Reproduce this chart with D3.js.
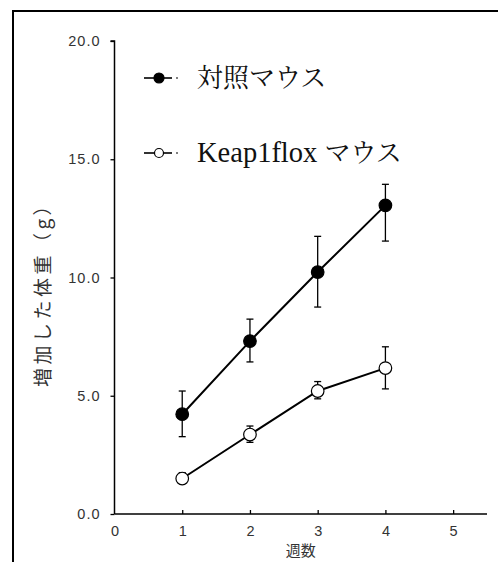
<!DOCTYPE html>
<html><head><meta charset="utf-8">
<script src="https://cdn.jsdelivr.net/npm/d3@7"></script>
<style>body{margin:0;background:#fff}svg{display:block}</style>
</head><body>
<script>
const weeks = [1, 2, 3, 4];
const seriesNames = ["対照マウス", "Keap1flox マウス"];
const controlMean = [4.22, 7.31, 10.23, 13.05];
const controlErrLow = [3.27, 6.43, 8.75, 11.54];
const controlErrHigh = [5.2, 8.24, 11.74, 13.94];
const keapMean = [1.5, 3.36, 5.2, 6.17];
const keapErrLow = [1.3, 3.03, 4.87, 5.29];
const keapErrHigh = [1.75, 3.72, 5.6, 7.07];
const yTicks = [0, 5, 10, 15, 20];
const xTicks = [0, 1, 2, 3, 4, 5];
const yLabel = "増加した体重（g）";
const xLabel = "週数";

const W = 498, H = 562;
const svg = d3.select("body").append("svg").attr("width", W).attr("height", H);

// outer frame
svg.append("rect").attr("x", 13).attr("y", 11).attr("width", 600).attr("height", 700)
  .attr("fill", "none").attr("stroke", "#000").attr("stroke-width", 2);

const x = d3.scaleLinear().domain([0, 5.5]).range([114.5, 487]);
const y = d3.scaleLinear().domain([0, 20]).range([514, 41]);

// axes
const yAxis = d3.axisLeft(y).tickValues(yTicks).tickFormat(d3.format(".1f")).tickSize(4).tickPadding(10);
const gy = svg.append("g").attr("transform", `translate(${x(0)},0)`).call(yAxis);
gy.select(".domain").attr("d", `M-4,${y(20)}H0V${y(0)}`).attr("stroke-width", 1.5);
gy.selectAll(".tick line").attr("stroke-width", 1.3);
gy.selectAll("text").attr("font-family", "Liberation Sans, Arial, sans-serif").attr("font-size", 14.5)
  .attr("letter-spacing", 1).attr("fill", "#333");

const xAxis = d3.axisBottom(x).tickValues(xTicks).tickFormat(d3.format("d")).tickSize(-4).tickPadding(12);
const gx = svg.append("g").attr("transform", `translate(0,${y(0)})`).call(xAxis);
gx.select(".domain").attr("d", `M${x(0)},0H${x(5.5)}`).attr("stroke-width", 1.5);
gx.selectAll(".tick line").attr("stroke-width", 1.3);
gx.selectAll(".tick").filter(d => d === 0).select("line").remove();
gx.selectAll("text").attr("font-family", "Liberation Sans, Arial, sans-serif").attr("font-size", 14.5).attr("fill", "#333");

// axis labels
svg.append("text").attr("transform", `translate(50,${290}) rotate(-90)`)
  .attr("text-anchor", "middle").attr("font-family", "Noto Sans CJK JP, sans-serif")
  .attr("font-size", 19).attr("letter-spacing", 3.5).attr("fill", "#333").text(yLabel);
svg.append("text").attr("x", (x(0) + x(5.5)) / 2).attr("y", 556)
  .attr("text-anchor", "middle").attr("font-family", "Noto Sans CJK JP, sans-serif")
  .attr("font-size", 15).attr("fill", "#333").text(xLabel);

const series = [
  {name: seriesNames[0], mean: controlMean, lo: controlErrLow, hi: controlErrHigh, fill: "#000"},
  {name: seriesNames[1], mean: keapMean, lo: keapErrLow, hi: keapErrHigh, fill: "#fff"}
];

const line = d3.line().x((d, i) => x(weeks[i])).y(d => y(d));
const cap = 3.5, r = 6.3;

series.forEach(s => {
  const g = svg.append("g");
  g.append("path").attr("d", line(s.mean)).attr("fill", "none").attr("stroke", "#000").attr("stroke-width", 2);
  weeks.forEach((w, i) => {
    const cx = x(w);
    g.append("line").attr("x1", cx).attr("x2", cx).attr("y1", y(s.lo[i])).attr("y2", y(s.hi[i])).attr("stroke", "#000").attr("stroke-width", 1.3);
    [s.lo[i], s.hi[i]].forEach(v => g.append("line").attr("x1", cx - cap).attr("x2", cx + cap).attr("y1", y(v)).attr("y2", y(v)).attr("stroke", "#000").attr("stroke-width", 1.3));
  });
  g.selectAll("circle").data(s.mean).enter().append("circle")
    .attr("cx", (d, i) => x(weeks[i])).attr("cy", d => y(d)).attr("r", r)
    .attr("fill", s.fill).attr("stroke", "#000").attr("stroke-width", 1.2);
});

// legend
const legY = [78, 153];
series.forEach((s, i) => {
  const g = svg.append("g");
  g.append("line").attr("x1", 144).attr("x2", 172).attr("y1", legY[i]).attr("y2", legY[i]).attr("stroke", "#000").attr("stroke-width", 1.6);
  g.append("line").attr("x1", 176).attr("x2", 178).attr("y1", legY[i]).attr("y2", legY[i]).attr("stroke", "#000").attr("stroke-width", 1.2);
  g.append("circle").attr("cx", 159).attr("cy", legY[i]).attr("r", i === 0 ? 5 : 4.5)
    .attr("fill", s.fill).attr("stroke", "#000").attr("stroke-width", 1.2);
  const t = g.append("text").attr("x", 197).attr("y", legY[i]).attr("dy", "0.36em")
    .attr("font-family", "Liberation Serif, 'Noto Serif CJK JP', serif").attr("font-size", 26).attr("fill", "#111");
  const parts = s.name.split(" ");
  if (parts.length > 1) {
    t.append("tspan").attr("font-size", 28.5).text(parts[0] + " ");
    t.append("tspan").text(parts.slice(1).join(" "));
  } else {
    t.text(s.name);
  }
});
</script>
</body></html>
